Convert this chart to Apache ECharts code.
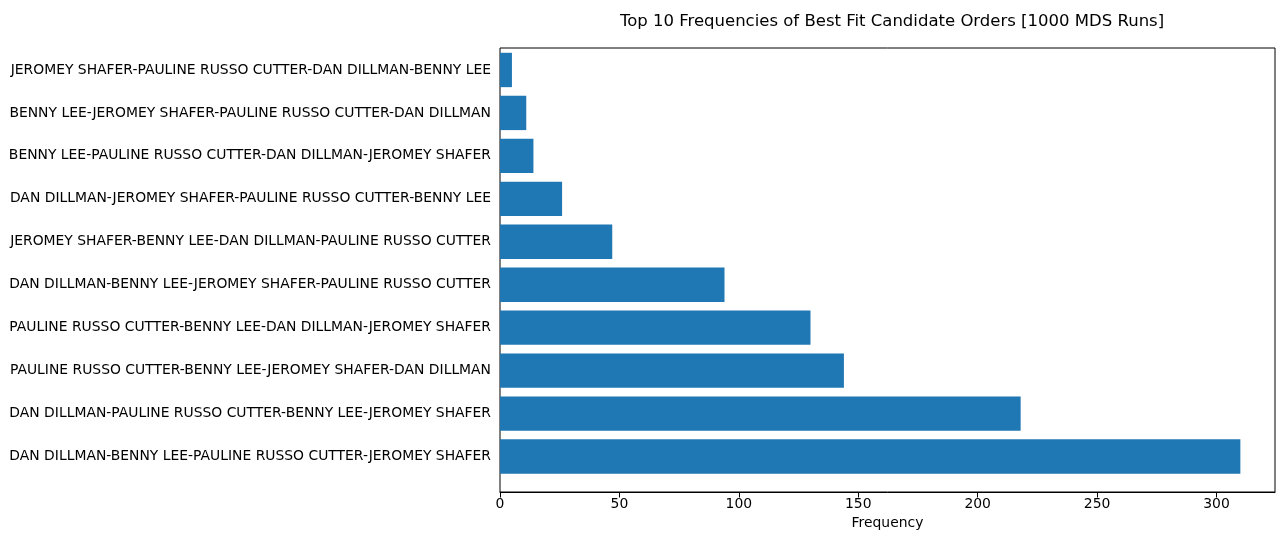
<!DOCTYPE html>
<html>
<head>
<meta charset="utf-8">
<script src="https://cdn.jsdelivr.net/npm/echarts@6/dist/echarts.min.js"></script>
<style>html,body{margin:0;padding:0;background:#fff}#chart{width:1285px;height:547px}</style>
</head>
<body>
<div id="chart"></div>
<script>
// bottom to top, as drawn
var orders = [
  'DAN DILLMAN-BENNY LEE-PAULINE RUSSO CUTTER-JEROMEY SHAFER',
  'DAN DILLMAN-PAULINE RUSSO CUTTER-BENNY LEE-JEROMEY SHAFER',
  'PAULINE RUSSO CUTTER-BENNY LEE-JEROMEY SHAFER-DAN DILLMAN',
  'PAULINE RUSSO CUTTER-BENNY LEE-DAN DILLMAN-JEROMEY SHAFER',
  'DAN DILLMAN-BENNY LEE-JEROMEY SHAFER-PAULINE RUSSO CUTTER',
  'JEROMEY SHAFER-BENNY LEE-DAN DILLMAN-PAULINE RUSSO CUTTER',
  'DAN DILLMAN-JEROMEY SHAFER-PAULINE RUSSO CUTTER-BENNY LEE',
  'BENNY LEE-PAULINE RUSSO CUTTER-DAN DILLMAN-JEROMEY SHAFER',
  'BENNY LEE-JEROMEY SHAFER-PAULINE RUSSO CUTTER-DAN DILLMAN',
  'JEROMEY SHAFER-PAULINE RUSSO CUTTER-DAN DILLMAN-BENNY LEE'
];
var counts = [310, 218, 144, 130, 94, 47, 26, 14, 11, 5];

var chart = echarts.init(document.getElementById('chart'));
var txt = {color: '#000', fontFamily: 'DejaVu Sans', fontSize: 13.9};
chart.setOption({
  animation: false,
  title: {
    text: 'Top 10 Frequencies of Best Fit Candidate Orders [1000 MDS Runs]',
    left: 887, top: 8, textAlign: 'center',
    textStyle: {color: '#000', fontFamily: 'DejaVu Sans', fontSize: 16.5, fontWeight: 'normal'}
  },
  grid: {left: 500, right: 10, top: 48.5, bottom: 69},
  xAxis: {
    type: 'value', min: 0, max: 324.5, interval: 50, offset: 14.5,
    name: 'Frequency', nameLocation: 'middle', nameGap: 24, nameTextStyle: txt,
    axisLine: {show: true, lineStyle: {color: '#000'}},
    axisTick: {show: true, length: 5, lineStyle: {color: '#000'}},
    axisLabel: Object.assign({showMaxLabel: false, margin: 5}, txt),
    splitLine: {show: false}
  },
  yAxis: {
    type: 'category', data: orders,
    axisLine: {show: false},
    axisTick: {alignWithLabel: true, length: 5, lineStyle: {color: '#000'}},
    axisLabel: Object.assign({margin: 9}, txt)
  },
  series: [{
    type: 'bar', data: counts, barCategoryGap: '20%',
    itemStyle: {color: '#1f77b4'}
  }]
});
// box frame like matplotlib
chart.setOption({graphic: [{type: 'rect', shape: {x: 500, y: 48, width: 775, height: 444},
  style: {fill: 'none', stroke: '#000', lineWidth: 1}, silent: true}]});
</script>
</body>
</html>
